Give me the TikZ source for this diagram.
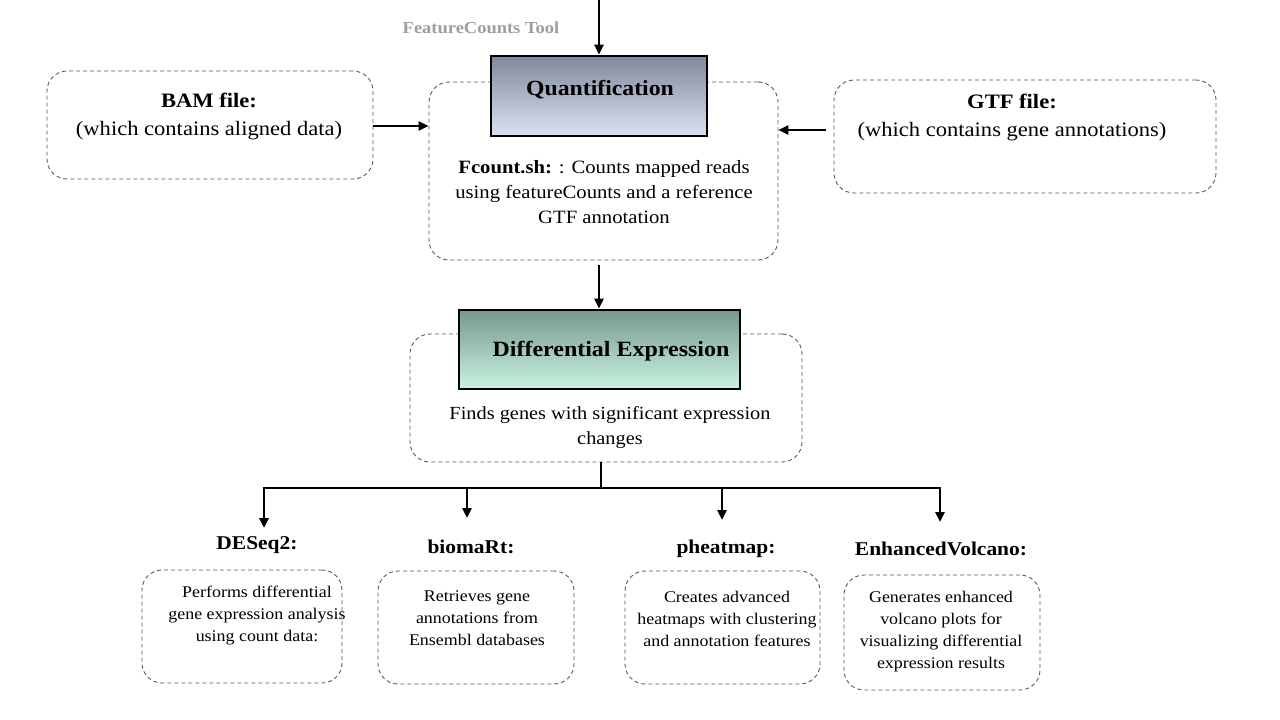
\documentclass[tikz,border=0pt]{standalone}
\usepackage{fontspec}
\setmainfont{Liberation Serif}[FakeStretch=1.1]
\usetikzlibrary{arrows.meta}
\tikzset{
  dbox/.style={draw=black!65, dashed, dash pattern=on 4pt off 3pt, rounded corners=20pt, line width=0.9pt, inner sep=0pt},
  gbox/.style={draw=black, line width=2.8pt, inner sep=0pt},
  conn/.style={line width=2.5pt, -{Triangle[length=10pt,width=9pt]}},
  ln/.style={line width=2.5pt},
  txt/.style={align=center, inner sep=0pt, font=\fontsize{16.3}{22}\selectfont},
  big/.style={align=center, inner sep=0pt, font=\fontsize{20.5}{28}\selectfont},
  lab/.style={inner sep=0pt, font=\fontsize{19.5}{22}\selectfont\bfseries},
}
\begin{document}
\begin{tikzpicture}[x=1pt,y=-1pt]
\useasboundingbox (0,0) rectangle (1280,720);
% top
\node[inner sep=0pt, text=black!38, font=\fontsize{16.8}{18}\selectfont\bfseries] (fct) at (481,28) {FeatureCounts Tool};
\coordinate (topin) at (599,0);
% quantification
\node[dbox, minimum width=349pt, minimum height=178pt] (qd) at (603.5,171) {};
\node[gbox, minimum width=216pt, minimum height=80pt, top color={rgb,255:red,128;green,136;blue,156}, bottom color={rgb,255:red,218;green,226;blue,242}] (q) at (599,96) {};
\node[lab, font=\fontsize{21.6}{24}\selectfont\bfseries] (qt) at (600,90) {Quantification};
\node[txt, font=\fontsize{18.8}{25}\selectfont] (qtxt) at (604,192) {\textbf{Fcount.sh:} : Counts mapped reads\\using featureCounts and a reference\\GTF annotation};
% BAM
\node[dbox, minimum width=326pt, minimum height=108pt] (bam) at (210,125) {};
\node[big] (bamt) at (209,116) {\textbf{BAM file:}\\(which contains aligned data)};
% GTF
\node[dbox, minimum width=382pt, minimum height=113pt] (gtf) at (1025,136.5) {};
\node[big] (gtft) at (1012,117) {\textbf{GTF file:}\\(which contains gene annotations)};
\coordinate (gtfout) at (826,130);
% DE
\node[dbox, minimum width=392pt, minimum height=128pt] (ded) at (606,398) {};
\node[gbox, minimum width=281pt, minimum height=79pt, top color={rgb,255:red,120;green,152;blue,140}, bottom color={rgb,255:red,200;green,244;blue,226}] (de) at (599.5,349.5) {};
\node[lab, font=\fontsize{21.8}{24}\selectfont\bfseries] (det) at (611,351) {Differential Expression};
\node[txt, font=\fontsize{18.5}{25}\selectfont] (detxt) at (610,427.5) {Finds genes with significant expression\\changes};
% connectors top
\coordinate (qout) at (599,265);
\draw[conn] (topin) -- (q.north);
\draw[conn] (bam.east |- 0,126) -- (qd.west |- 0,126);
\draw[conn] (gtfout) -- (qd.east |- gtfout);
\draw[conn] (qout) -- (qout |- de.north);
% branch
\coordinate (br0) at (601,462);
\coordinate (br) at (601,488);
\coordinate (bl) at (264,488);
\coordinate (brr) at (940,488);
\draw[ln] (ded.south -| br0) -- (br);
\draw[ln, line cap=rect] (bl) -- (brr);
% bottom labels
\node[lab] (l1) at (257,545) {DESeq2:};
\node[lab] (l2) at (471,547) {biomaRt:};
\node[lab] (l3) at (726,549) {pheatmap:};
\node[lab] (l4) at (941,549) {EnhancedVolcano:};
\draw[conn] (bl) -- (264,528);
\draw[conn] (467,488) -- (467,518);
\draw[conn] (722,488) -- (722,520);
\draw[conn] (brr) -- (940,522);
% bottom boxes
\node[dbox, minimum width=200pt, minimum height=113pt] (b1) at (242,626.5) {};
\node[dbox, minimum width=196pt, minimum height=113pt] (b2) at (476,627.5) {};
\node[dbox, minimum width=195pt, minimum height=113pt] (b3) at (722.5,627.5) {};
\node[dbox, minimum width=196pt, minimum height=115pt] (b4) at (942,632.5) {};
\node[txt] (b1t) at (257,615.5) {Performs differential\\gene expression analysis\\using count data:};
\node[txt] (b2t) at (477,618.5) {Retrieves gene\\annotations from\\Ensembl databases};
\node[txt] (b3t) at (727,619) {Creates advanced\\heatmaps with clustering\\and annotation features};
\node[txt] (b4t) at (941,631.5) {Generates enhanced\\volcano plots for\\visualizing differential\\expression results};
\end{tikzpicture}
\end{document}
